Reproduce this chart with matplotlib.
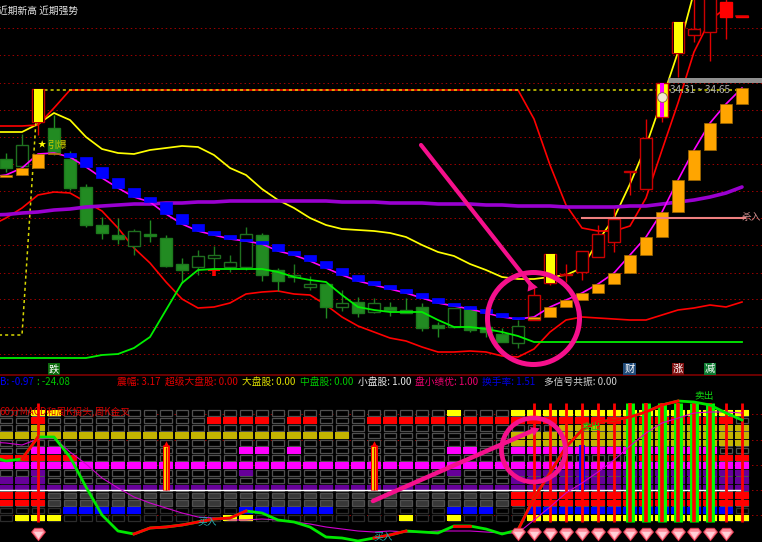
import numpy as np
import matplotlib
matplotlib.use('Agg')
from matplotlib import pyplot as plt
from matplotlib.patches import Circle
from matplotlib.path import Path

plt.rcParams['font.family'] = ['Noto Sans CJK SC', 'DejaVu Sans']

# CANDLES (levels, small number = high on the panel)
cand_top = [159, 145, 89, 128, 159, 187, 225, 235, 231, 234, 238, 264, 256, 255, 262, 234, 235, 270, 275, 284, 284, 303, 302, 303,
            307, 310, 307, 325, 308, 308, 327, 334, 326, 295, 254, 274, 251, 234, 219, 171, 138, 83, 22, 29, -5, 2, 16]
cand_bot = [168, 166, 122, 152, 188, 225, 233, 239, 246, 236, 266, 270, 267, 258, 267, 267, 275, 281, 277, 287, 307, 307, 313, 312,
            310, 313, 328, 328, 327, 330, 332, 342, 343, 320, 283, 275, 272, 257, 242, 172, 189, 117, 53, 35, 32, 17, 17]
cand_high = [153, 134, 89, 115, 151, 184, 217, 218, 229, 220, 235, 258, 250, 246, 255, 227, 233, 268, 264, 276, 284, 290, 297, 298,
             302, 298, 303, 322, 308, 306, 307, 328, 320, 285, 254, 264, 251, 225, 208, 171, 119, 83, 22, -5, -5, -5, 16]
cand_low = [172, 175, 135, 155, 190, 227, 239, 244, 255, 242, 267, 283, 275, 270, 272, 270, 281, 291, 282, 290, 318, 311, 317, 313,
            316, 313, 331, 337, 328, 332, 337, 342, 348, 320, 285, 282, 280, 257, 252, 195, 189, 122, 77, 42, 61, 39, 17]
green_filled = [0, 3, 4, 5, 6, 7, 9, 10, 11, 16, 17, 20, 22, 24, 25, 26, 27, 29, 30, 31]
green_hollow = [1, 8, 12, 13, 14, 15, 18, 19, 21, 23, 28, 32]
red_hollow = [33, 35, 36, 37, 38, 39, 40, 43, 44]
red_filled = [45, 46]
yellow_filled = [2, 34, 42]
striped = [41]

# MAIN PANEL LINES (first value belongs to the bar just off the left edge)
yellow_line = [132, 132, 132, 124, 113, 120, 137, 149, 153, 154, 150, 148, 146, 147, 155, 168, 175, 189, 200, 208, 218, 225, 229, 230, 231,
               233, 237, 245, 252, 256, 264, 270, 277, 279, 279, 277, 275, 268, 241, 218, 184, 146, 100, 52, -8]
upper_red = [126, 126, 126, 125, 108] + [90] * 29 + [119, 165, 205, 228, 231, 231, 226, 198, 150, 103, 52, 20, 8]
lower_red = [226, 218, 208, 195, 192, 193, 202, 211, 228, 248, 263, 282, 299, 308, 307, 303, 294, 292, 291, 294, 295, 305, 317, 326, 332,
             338, 341, 347, 352, 352, 351, 352, 356, 357, 349, 332, 320, 317, 318, 319, 320, 320, 315, 310, 308, 305, 307, 302]
green_line = [358, 358, 358, 358, 358, 358, 358, 355, 354, 348, 337, 310, 283, 270, 269, 269, 269, 269, 272, 277, 280, 282, 295, 307, 310,
              312, 312, 312, 320, 327, 327, 329, 332, 336, 342] + [342] * 13
ma_line = [177, 175, 168, 154, 153, 157, 167, 178, 188, 197, 202, 214, 224, 231, 235, 239, 241, 244, 251, 255, 261, 268, 275, 281, 285,
           289, 293, 298, 303, 306, 309, 313, 317, 319, 317, 307, 300, 293, 284, 273, 255, 237, 212, 180, 150, 123, 104, 88]
purple_line = [215, 214.5, 213, 212, 210, 209, 207, 206, 205, 204, 204, 203, 203, 202, 202, 201, 201, 201, 201, 201, 201, 201, 202, 202, 202,
               203, 203, 203, 204, 204, 204, 205, 205, 206, 206, 206, 207, 207, 207, 207, 206, 206, 204, 202, 200, 197, 193, 187]
dotted_level = [335, 335, 335, 90] + [90] * 44

# LOWER PANEL LINES
sub_thin = [442, 443, 445, 439, 438, 452, 464, 478, 488, 497, 503, 508, 513, 517, 518, 520, 520, 519, 520, 522, 524, 527, 529, 531, 532,
            531, 532, 532, 531, 531, 531, 532, 533, 533, 520, 507, 493, 483, 472, 460, 446, 433, 423, 418, 413, 412, 412, 413]
sub_thick = [456, 461, 459, 437, 437, 457, 487, 515, 531, 534, 528, 527, 525, 522, 519, 518, 511, 513, 520, 522, 527, 537, 538, 541, 538,
             535, 531, 532, 533, 526, 526, 529, 534, 530, 498, 473, 447, 430, 422, 420, 417, 412, 405, 401, 402, 405, 413, 420]
red_runs = [(1, 2), (8, 15), (23, 25), (28, 29), (32, 42)]

# SIGNAL TABLE (row -> bars that are lit)
n_bars = 47
n_rows = 15
rng = lambda a, b: list(range(a, b + 1))
row_lit = {
    0: ('#ffff00', [2, 3, 28] + rng(32, 46)),
    1: ('#ff0000', [2, 13, 14, 15, 16, 18, 19] + rng(23, 45)),
    2: ('#c4b400', [2] + rng(35, 46)),
    3: ('#c4b400', rng(0, 21) + rng(32, 46)),
    4: ('#c4b400', rng(32, 46)),
    5: ('#ff00ff', [2, 3, 15, 16, 18, 28, 29] + rng(32, 44)),
    6: ('#ff0000', rng(0, 4) + rng(40, 46)),
    7: ('#ff00ff', rng(0, 46)),
    8: ('#660099', [2, 15, 28] + rng(32, 46)),
    9: ('#660099', [0, 1, 2] + rng(32, 46)),
    10: ('#660099', rng(0, 46)),
    11: ('#ff0000', [0, 1, 2] + rng(32, 46)),
    12: ('#ff0000', [0, 1, 2] + rng(32, 46)),
    13: ('#0000ff', rng(4, 8) + rng(15, 20) + [28, 29, 30] + rng(33, 45)),
    14: ('#ffff00', [1, 2, 3, 14, 15, 25, 28] + rng(33, 46)),
}
gray_fill_rows = [11, 12]
red_spikes = [2, 33, 34, 35, 36, 37, 38, 45, 46]
green_spikes = [39, 40, 41, 42, 43, 44]
blue_spike = 36
arrow_bars = [10, 23]
gem_bars = [2] + rng(32, 45)

# TEXT
header_items = [('B: -0.97', 0, '#0000ff'), (': -24.08', 37, '#00c800'), ('震幅: 3.17', 117, '#e00000'),
                ('超级大盘股: 0.00', 165, '#e00000'), ('大盘股: 0.00', 242, '#e0e000'), ('中盘股: 0.00', 300, '#00c800'),
                ('小盘股: 1.00', 358, '#e8e8e8'), ('盘小绩优: 1.00', 415, '#f00070'), ('换手率: 1.51', 482, '#0000e0'),
                ('多信号共振: 0.00', 544, '#d0d0d0')]

# FIGURE: main panel on top, signal panel below, overlay in picture pixels
fig = plt.figure(figsize=(7.62, 5.42), dpi=100, facecolor='black')
ax = fig.add_axes([0, 166 / 542, 1, 376 / 542])
sub = fig.add_axes([0, 0, 1, 166 / 542])
over = fig.add_axes([0, 0, 1, 1])
over.patch.set_alpha(0)
for a in (ax, sub):
    a.set_facecolor('black')
    a.set_xlim(-6 / 16, (762 - 6) / 16)
for a in (ax, sub, over):
    a.axis('off')
ax.set_ylim(376, 0)
sub.set_ylim(542, 376)
over.set_xlim(0, 762)
over.set_ylim(542, 0)

bars = np.arange(n_bars)
line_x = np.arange(-1, n_bars)

# grid
for level in [28, 55, 83, 110, 137, 164, 191, 218, 245, 273, 299, 327, 354]:
    ax.plot([-1, 48], [level, level], color='#a00000', lw=0.7, ls=(0, (1.5, 3)), zorder=1)
for level in [414, 440, 465, 490, 515]:
    sub.plot([-1, 48], [level, level], color='#a00000', lw=0.7, ls=(0, (1.5, 3)), zorder=1)
ax.plot([-1, 48], [375, 375], color='#8a0000', lw=1.1, zorder=1)

# lines under the candles
ax.plot(line_x[:len(yellow_line)], yellow_line, color='#ffff00', lw=1.25, zorder=2)
ax.plot(line_x[:len(upper_red)], upper_red, color='#ff0000', lw=1.2, zorder=2.5)
ax.plot(line_x, dotted_level, color='#d8d800', lw=1.1, ls=(0, (2, 2)), zorder=2.6)
ax.plot(line_x, lower_red, color='#ff0000', lw=1.2, zorder=2)

# candles
top = np.array(cand_top)
bot = np.array(cand_bot)
high = np.array(cand_high)
low = np.array(cand_low)


def wicks(idx, color):
    ax.vlines(bars[idx], high[idx], low[idx], color=color, lw=1.0, zorder=3)


def bodies(idx, face, edge, width=0.8):
    ax.bar(bars[idx], bot[idx] - top[idx], bottom=top[idx], width=width, facecolor=face, edgecolor=edge, lw=1.0, zorder=3.1)


wicks(green_filled, '#228b22')
bodies(green_filled, '#228b22', '#1d7a1d')
wicks(green_hollow, '#1f7a1f')
bodies(green_hollow, 'black', '#1f6f1f')
wicks(red_hollow + red_filled + yellow_filled + striped, '#e00000')
bodies(red_hollow, 'black', '#c80000')
bodies(red_filled, '#ff0000', '#ff0000')
bodies(yellow_filled, 'black', '#c00000')
ax.bar(bars[yellow_filled] + 0.03, bot[yellow_filled] - top[yellow_filled], bottom=top[yellow_filled], width=0.58, color='#ffff00', zorder=3.2)
bodies(striped, '#ffff00', '#c00000')
ax.bar(bars[striped], bot[striped] - top[striped], bottom=top[striped], width=0.3, color='#ff00ff', zorder=3.2)
ax.plot([45.6, 46.4], [16, 16], color='#e00000', lw=1.1, zorder=3.2)

# small red mark under bar 13
ax.plot([12.7, 13.3], [270, 270], color='#ff0000', lw=1.5, zorder=3.5)
ax.vlines(13, 270, 276, color='#ff0000', lw=2.6, zorder=3.5)

# moving averages and the blocks between them
ax.plot(line_x, purple_line, color='#9a00d0', lw=2.6, solid_capstyle='round', zorder=4)
ax.plot(line_x, ma_line, color='#ff00ff', lw=1.2, zorder=4)
ma = np.array(ma_line)
prev_ma, this_ma = ma[:-1], ma[1:]
block_col = ['#ffa500' if (i < 4 or i > 32) else '#0000ff' for i in bars]
block_edge = ['#a06800' if (i < 4 or i > 32) else '#0000ff' for i in bars]
ax.bar(bars, np.abs(this_ma - prev_ma), bottom=np.minimum(this_ma, prev_ma), width=0.74, color=block_col, edgecolor=block_edge, lw=0.5, zorder=5)
ax.plot(line_x, green_line, color='#00f000', lw=1.3, zorder=6)
ax.scatter([41], [97], s=48, color='#f0e6d0', edgecolor='#806040', lw=0.6, zorder=6)

# level lines on the right
ax.plot([36, 46.2], [218, 218], color='#f08080', lw=1.5, zorder=6)
ax.plot([41.4, 48], [79.5, 79.5], color='#909090', lw=3.6, solid_capstyle='butt', zorder=6)

# signal table
row_levels = 413 + 7.5 * np.arange(n_rows)
cell_w, cell_h = 0.8, 5.6
for r, level in enumerate(row_levels):
    edge = '#2c2c2c' if r >= 13 else '#505050'
    sub.bar(bars, cell_h, bottom=level - cell_h / 2, width=cell_w, facecolor='#383838' if r in gray_fill_rows else 'black', edgecolor=edge, lw=0.9, zorder=2)
    colour, lit = row_lit[r]
    sub.bar(lit, 6.4, bottom=level - 3.2, width=0.87, color=colour, zorder=2.2)

sub.plot([-1, 46], [490, 490], color='white', lw=1.0, zorder=3)

# spikes
sub.vlines(red_spikes, 403, 522, color='#ff0000', lw=2.0, zorder=4)
sub.vlines(blue_spike, 445, 490, color='#0000ff', lw=4.2, zorder=3.5)
sub.vlines(green_spikes, 403, 522, color='#00ff00', lw=6.4, zorder=4)
sub.vlines(green_spikes, 403, 522, color='#ff0000', lw=2.6, zorder=4.1)
sub.vlines(arrow_bars, 445, 490, color='#ff0000', lw=5.0, zorder=4)
sub.vlines(arrow_bars, 447, 490, color='#ffff00', lw=2.6, zorder=4.1)
sub.vlines(arrow_bars, 447, 490, color='#e00000', lw=1.0, zorder=4.2)
sub.scatter(arrow_bars, [444, 444], marker='^', s=22, color='#ff0000', lw=0, zorder=4)

# indicator lines
sub.plot(line_x, sub_thin, color='#d000d0', lw=0.8, zorder=5)
sub.plot(line_x, sub_thick, color='#00e800', lw=2.0, zorder=5)
for start, end in red_runs:
    sub.plot(line_x[start + 1:end + 2], sub_thick[start + 1:end + 2], color='#ff0000', lw=2.0, zorder=5.1)

# gems along the bottom
gem = Path([(-1, 0.35), (-0.55, 0.9), (0.55, 0.9), (1, 0.35), (0, -0.9), (-1, 0.35)], closed=True)
sub.scatter(gem_bars, [534] * len(gem_bars), marker=gem, s=100, facecolor='#ff8a9a', edgecolor='#e03048', lw=0.6, zorder=6)
gem_in = Path([(-0.6, 0.35), (0.6, 0.35), (0, -0.55), (-0.6, 0.35)], closed=True)
sub.scatter(gem_bars, [534] * len(gem_bars), marker=gem_in, s=45, facecolor='#ffd0d8', lw=0, zorder=6.1)

# pink hand drawn marks
pink = '#f5108c'
over.add_patch(Circle((533.5, 318.5), 46, fill=False, edgecolor=pink, lw=3.6, zorder=8))
over.plot([421, 531], [145, 285], color=pink, lw=3.0, solid_capstyle='round', zorder=8)
over.scatter([531], [286], marker=(3, 0, 142), s=85, color=pink, lw=0, zorder=8)
over.plot([373, 532], [501, 431], color=pink, lw=3.2, solid_capstyle='round', zorder=8)
over.scatter([534], [430], marker=(3, 0, 293), s=65, color=pink, lw=0, zorder=8)
over.add_patch(Circle((533.5, 450), 32, fill=False, edgecolor=pink, lw=3.4, zorder=8))

# texts
over.text(-2, 11, '近期新高 近期强势', color='#e4e4e4', fontsize=7, va='center', zorder=9)
over.text(38, 145, '★', color='#ffff00', fontsize=6, va='center', zorder=9)
over.text(47, 145, '引爆', color='#c8c800', fontsize=7, va='center', zorder=9)
tag_box = dict(pad=0.8, edgecolor='none')
over.text(54, 369, '跌', color='white', fontsize=7.4, ha='center', va='center', bbox=dict(facecolor='#0c6a0c', **tag_box), zorder=9)
over.text(629.5, 369, '财', color='white', fontsize=7.4, ha='center', va='center', bbox=dict(facecolor='#1f4a78', **tag_box), zorder=9)
over.text(678, 369, '涨', color='white', fontsize=7.4, ha='center', va='center', bbox=dict(facecolor='#801010', **tag_box), zorder=9)
over.text(710, 369, '减', color='white', fontsize=7.4, ha='center', va='center', bbox=dict(facecolor='#0c7a30', **tag_box), zorder=9)
over.text(670, 90, '34.31 ~ 34.65', color='#b0b0b0', fontsize=7.2, va='center', zorder=9)
over.text(742, 217, '杀入', color='#d09090', fontsize=7, va='center', zorder=9)
for label, x_pos, colour in header_items:
    over.text(x_pos, 382, label, color=colour, fontsize=7, va='center', zorder=9)
over.text(-1, 412, '60分MACD和周K拐头,周K金叉', color='#d80000', fontsize=7, va='center', zorder=9)
over.text(207, 521, '买入', color='#20b0b0', fontsize=7, ha='center', va='center', zorder=9)
over.text(383, 536, '买入', color='#20b0b0', fontsize=7, ha='center', va='center', zorder=9)
over.text(591, 427, '卖出', color='#10d010', fontsize=7, ha='center', va='center', zorder=9)
over.text(704, 396, '卖出', color='#10d010', fontsize=7, ha='center', va='center', zorder=9)

fig.savefig('out.png', dpi=100, facecolor='black')
